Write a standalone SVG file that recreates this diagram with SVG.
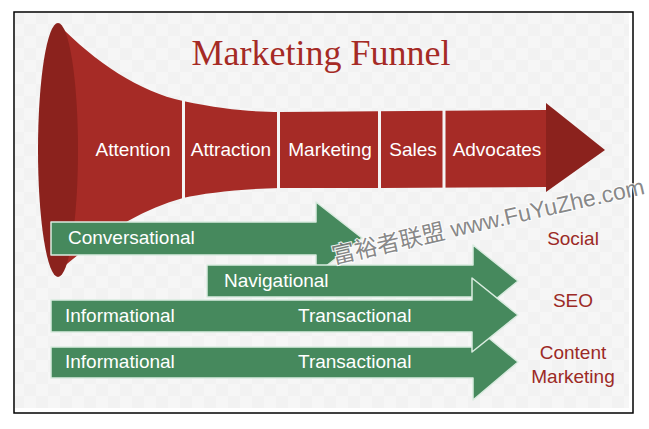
<svg xmlns="http://www.w3.org/2000/svg" width="649" height="429" viewBox="0 0 649 429">
<defs>
<style>
.lbl{font-family:"Liberation Sans",Arial,sans-serif;font-size:19px;fill:#ffffff}
.side{font-family:"Liberation Sans",Arial,sans-serif;font-size:19px;fill:#9c2a26;text-anchor:middle}
.arrow{fill:#46895d;stroke:#d9ebdf;stroke-width:1.5;stroke-linejoin:round}
.sep{stroke:#f4f4f4;stroke-width:3}
</style>
<pattern id="chk" width="24" height="24" patternUnits="userSpaceOnUse">
<rect width="24" height="24" fill="#f6f6f6"/>
<rect width="12" height="12" fill="#f2f2f2"/>
<rect x="12" y="12" width="12" height="12" fill="#f2f2f2"/>
</pattern>
</defs>
<rect width="649" height="429" fill="#ffffff"/>
<rect x="15" y="13" width="614" height="395" fill="url(#chk)"/>
<rect x="14" y="12" width="619" height="401" fill="none" stroke="#000000" stroke-width="1.5"/>

<text x="321" y="65" text-anchor="middle" font-family="Liberation Serif, Times New Roman, serif" font-size="36" fill="#a52a25">Marketing Funnel</text>

<g id="funnel">
<path d="M58,24 C95,62 140,92 183,101 C225,110 255,112 280,112 L546,110 L546,187 L380,188 L280,188 C240,189 205,193 183,198 C140,210 100,235 60,270 Z" fill="#a62b26"/>
<polygon points="546,103 605,150 546,192" fill="#8b221d"/>
<ellipse cx="58" cy="150" rx="20" ry="127" fill="#8b221d"/>
<line class="sep" x1="183.5" y1="95" x2="183.5" y2="205"/>
<line class="sep" x1="278.5" y1="105" x2="278.5" y2="195"/>
<line class="sep" x1="379.5" y1="105" x2="379.5" y2="195"/>
<line class="sep" x1="444" y1="105" x2="444" y2="195"/>
<text class="lbl" x="133" y="155.5" text-anchor="middle">Attention</text>
<text class="lbl" x="231" y="155.5" text-anchor="middle">Attraction</text>
<text class="lbl" x="330" y="155.5" text-anchor="middle">Marketing</text>
<text class="lbl" x="413" y="155.5" text-anchor="middle">Sales</text>
<text class="lbl" x="497" y="155.5" text-anchor="middle">Advocates</text>
</g>

<g id="connectors">
<g id="arrow-conversational">
<path class="arrow" d="M51,222 L316,222 L316,202 L362,238 L316,274 L316,255 L51,255 Z"/>
<text class="lbl" x="68" y="244">Conversational</text>
</g>
<g id="arrow-navigational">
<path class="arrow" d="M207,265 L473,265 L473,245 L518,281 L473,318 L473,297 L207,297 Z"/>
<text class="lbl" x="224" y="287">Navigational</text>
</g>
<g id="arrow-content">
<path class="arrow" d="M51,347 L473,347 L473,325 L518,362 L473,400 L473,378 L51,378 Z"/>
<text class="lbl" x="65" y="368">Informational</text>
<text class="lbl" x="298" y="368">Transactional</text>
</g>
<g id="arrow-seo">
<path class="arrow" d="M51,300 L472,300 L472,278 L518,315 L472,352 L472,332 L51,332 Z"/>
<text class="lbl" x="65" y="322">Informational</text>
<text class="lbl" x="298" y="322">Transactional</text>
</g>
</g>

<g id="labels">
<text class="side" x="573" y="245">Social</text>
<text class="side" x="573" y="307">SEO</text>
<text class="side" x="573" y="359">Content</text>
<text class="side" x="573" y="383">Marketing</text>
</g>

<text x="334" y="264" transform="rotate(-12.7 334 264)" font-family="Liberation Sans, Noto Sans CJK SC, sans-serif" font-size="23" fill="#7d7d7d" stroke="#ffffff" stroke-width="2" paint-order="stroke" opacity="0.9">富裕者联盟 www.FuYuZhe.com</text>
</svg>
